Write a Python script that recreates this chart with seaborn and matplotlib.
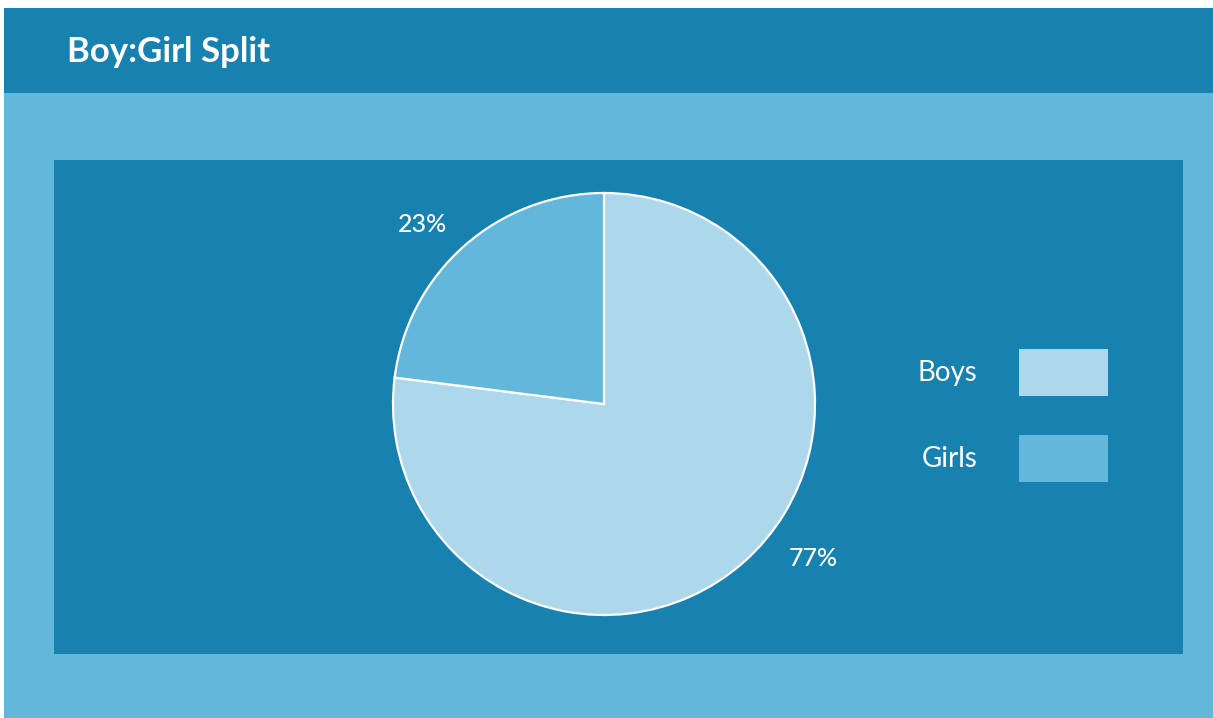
import matplotlib
matplotlib.use("Agg")
import matplotlib.pyplot as plt
import seaborn as sns
import numpy as np
from matplotlib.patches import Rectangle

categories = ["Boys", "Girls"]
values = [77, 23]
title = "Boy:Girl Split"

DARK = "#1782b0"
LIGHT = "#62b7da"
BOYS = "#add7ea"
GIRLS = "#62b7da"

sns.set_style("white")
plt.rcParams["font.family"] = ["Lato", "DejaVu Sans"]

W, H = 1213, 718
fig = plt.figure(figsize=(W / 100, H / 100), dpi=100, facecolor="white")

def frect(x0, y0, x1, y1, color):
    fig.patches.append(Rectangle((x0 / W, 1 - y1 / H), (x1 - x0) / W, (y1 - y0) / H,
                                 transform=fig.transFigure, facecolor=color,
                                 edgecolor="none", zorder=-5))

frect(4, 8, W, 93, DARK)
frect(4, 93, W, H, LIGHT)
frect(54, 160, 1183, 654, DARK)

fig.text(67 / W, 1 - 52 / H, title, color="white", fontsize=25, fontweight="bold",
         va="center", ha="left")

R = 211
cx, cy = 604, 404
side = R * 2.2
ax = fig.add_axes([(cx - side / 2) / W, 1 - (cy + side / 2) / H, side / W, side / H])
ax.set_zorder(2)
ax.set_facecolor("none")
palette = sns.color_palette([BOYS, GIRLS])
wedges, texts, autotexts = ax.pie(values, labels=None, colors=palette, startangle=90,
                                  counterclock=False, autopct="%d%%", pctdistance=1.22,
                                  wedgeprops=dict(edgecolor="white", linewidth=1.6),
                                  textprops=dict(color="white", fontsize=18, fontweight="medium"))
ax.set_xlim(-1.1, 1.1)
ax.set_ylim(-1.1, 1.1)
ax.axis("off")
# label positions as in reference
autotexts[0].set_position((0.99, -0.73))
autotexts[1].set_position((-0.86, 0.85))

leg = fig.legend(wedges, categories, loc="upper left",
                 bbox_to_anchor=(918 / W, 1 - 349 / H), frameon=False,
                 markerfirst=False, fontsize=20, borderpad=0, borderaxespad=0,
                 handlelength=3.2, handleheight=2.2, labelspacing=1.42,
                 handletextpad=1.5, labelcolor="white")
leg.set_zorder(3)
for h in leg.legend_handles:
    h.set_edgecolor("none")

fig.savefig("out.png", dpi=100, facecolor="white")
